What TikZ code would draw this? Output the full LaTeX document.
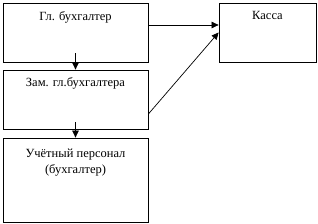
\documentclass[tikz,border=0pt]{standalone}
\usepackage{fontspec}
\setmainfont{Liberation Serif}
\usetikzlibrary{arrows.meta,positioning,calc}

\begin{document}
\begin{tikzpicture}[
  x=1pt, y=1pt,
  every node/.style={font=\fontsize{12.5}{16}\selectfont},
  unit/.style={draw, line width=0.8pt, minimum width=145pt, minimum height=59pt, inner sep=0pt},
  lbl/.style={inner sep=0pt, align=center},
  arr/.style={-{Triangle[length=7pt,width=6.5pt]}, line width=0.7pt}
]
\useasboundingbox (0,0) rectangle (318,224);

%% Boxes
\node[unit] (chief) at (75.5,191.5) {};
\node[unit] (deputy) at (75.5,124.5) {};
\node[unit, minimum height=84pt] (staff) at (75.5,44) {};
\node[unit, minimum width=97pt] (cash) at (267.5,191.5) {};

%% Labels
\node[lbl, below=9pt of chief.north] (chiefl) {Гл. бухгалтер};
\node[lbl, below=8pt of deputy.north] (deputyl) {Зам. гл.бухгалтера};
\node[lbl, below=11pt of staff.north] (staffl) {Учётный персонал\\(бухгалтер)};
\node[lbl, below=9pt of cash.north] (cashl) {Касса};

%% Arrows
\draw[arr] ([yshift=9pt]chief.south) -- (deputy.north);
\draw[arr] ([yshift=7pt]deputy.south) -- (staff.north);
\draw[arr] ([yshift=7.5pt]chief.east) -- ([yshift=7.5pt]cash.west);
\draw[arr] ([yshift=-14.5pt]deputy.east) -- (cash.west);

\end{tikzpicture}
\end{document}
